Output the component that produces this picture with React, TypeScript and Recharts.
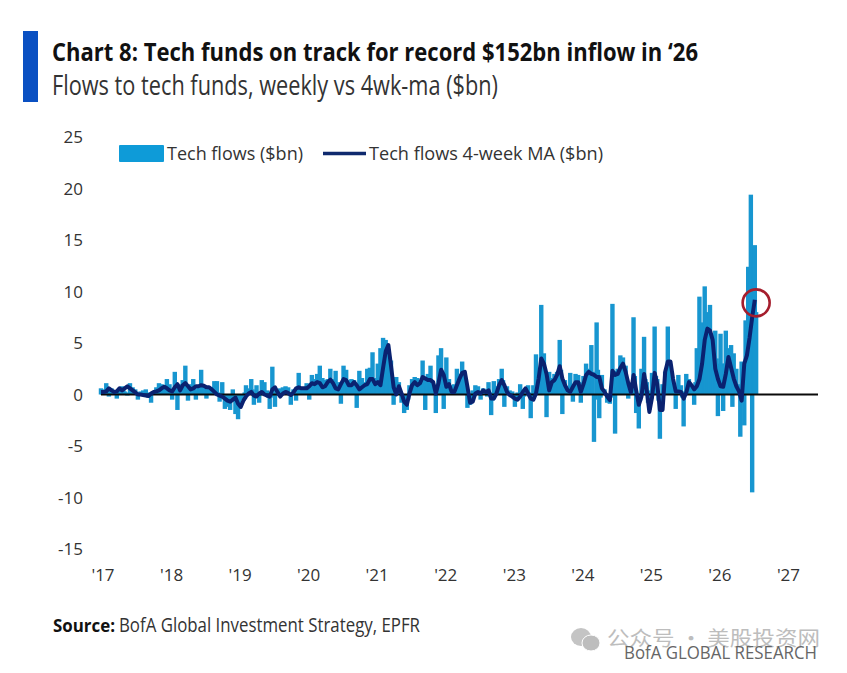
import React from "react";
import {
  ComposedChart, Bar, Line, XAxis, YAxis, ReferenceLine, ReferenceDot,
} from "recharts";

const yearTicks = [2017, 2018, 2019, 2020, 2021, 2022, 2023, 2024, 2025, 2026, 2027];
const valueTicks = [-15, -10, -5, 0, 5, 10, 15, 20, 25];

const flows2017 = [.6,.3,.5,.2,1.1,.4,-.2,.3,.6,.2,.3,.4,-.4,.2,.6,.3,.8,.4,.3,.1,-.1,.2,1.1,.5,.7,.3,.5,.2,-.5,.1,.3,.2,.4,.1,.5,.2,-.3,.1,-.8,.1,.3,.2,.7,.4,1.1,.6,1.0,.5,.8,.4,1.5,.7];
const flows2018 = [1.0,.4,-.5,.5,2.2,.6,-1.5,.4,1.0,.5,1.4,.6,2.8,.8,-.6,.4,1.0,.5,1.5,.6,-.5,.4,.8,.6,2.4,.7,.9,.5,-.4,.5,.7,.4,.7,.3,1.3,.4,1.3,.2,-.7,-.1,1.2,-.3,-1.4,-.5,-1.2,-.6,-1.5,-.7,.5,-.5,-1.9,-.8];
const flows2019 = [-2.4,-1.0,-.5,-.2,-.5,.2,.9,.2,.6,.3,1.5,.5,-1.0,-.2,.9,.1,-.8,-.1,1.4,.4,1.2,.3,.4,-.3,-1.4,-.3,2.7,.6,-1.2,-.1,.4,.2,.6,.2,.7,.3,.8,.2,.7,-.1,-1.0,.2,.5,.3,-.6,.4,2.1,.7,.6,.4,.7,.5];
const flows2020 = [1.1,.6,-.5,.7,1.9,.9,1.5,1.0,2.0,1.1,2.8,1.2,1.6,.9,1.4,.8,1.5,1.1,2.5,1.4,1.5,.9,2.3,.7,1.2,.5,-.9,.8,2.8,1.4,2.4,1.2,1.4,.8,1.5,.9,1.4,1.0,-1.3,.7,2.3,.6,1.6,.7,1.2,.9,2.5,1.1,2.6,1.4,4.1,1.6];
const flows2021 = [1.5,1.0,3.0,1.8,4.5,3.0,5.5,4.5,5.3,4.6,4.2,3.5,3.3,1.5,-1.0,.4,1.7,.9,1.2,.3,-.8,-.2,-1.8,-.8,-1.5,-.5,.9,.3,1.5,.8,1.7,1.0,1.6,.9,1.4,1.2,3.3,1.7,-1.5,.8,2.0,1.2,2.8,1.4,1.0,.6,-1.8,.5,3.8,1.5,4.5,2.0];
const flows2022 = [-1.4,1.0,3.6,1.4,1.5,.6,.9,.3,1.0,.5,2.5,1.2,2.0,1.4,3.2,1.9,1.8,.8,-1.3,-.4,-1.0,-.6,.4,-.2,.9,.3,.8,.3,-.5,.1,.6,.3,.4,-.2,1.2,.2,-2.0,-.6,1.3,.2,.8,.3,1.5,.8,2.5,1.4,-1.2,.3,.8,.2,.4,-.1];
const flows2023 = [.3,-.2,-1.2,-.3,.2,-.2,1.0,.2,-1.4,-.2,.6,.3,.9,.2,-2.3,-.4,.9,.1,3.9,1.5,2.5,1.8,8.7,3.0,4.0,1.2,-2.2,.4,2.2,1.0,1.6,.9,2.0,1.2,2.2,1.6,5.3,2.4,-1.9,.7,1.4,.6,.8,.3,2.1,.5,-.7,.6,2.0,1.0,1.9,1.2];
const flows2024 = [-.8,.7,1.8,1.0,3.0,1.7,2.5,1.5,4.8,2.2,-4.6,-.5,7.0,2.4,-2.3,-.3,1.9,.5,.5,.1,-.8,-.4,-.9,-.3,8.8,2.3,-3.8,.7,2.5,1.6,3.8,2.0,3.6,2.5,2.8,1.0,-.4,.1,1.0,.3,7.5,1.8,-1.8,-.4,-3.3,-.6,2.5,.6,5.6,1.5,1.2,-.8];
const flows2025 = [-1.5,.4,2.1,.9,6.6,1.8,1.5,-.6,-4.3,-.9,1.0,.3,2.2,1.0,6.6,2.6,2.1,1.0,1.0,.3,-1.4,.2,1.9,.6,.9,-.3,-3.1,.3,2.0,.9,1.5,.8,.8,.3,-1.0,1.2,4.5,2.5,9.5,5.5,7.0,5.8,10.5,8.0,7.5,5.5,8.7,5.0,4.0,3.0,6.2,3.5];
const flows2026 = [-2.1,3.0,5.9,3.0,-1.6,3.0,6.2,3.5,4.5,2.5,4.8,-1.2,4.0,1.5,2.5,1.0,.8,-4.1,3.2,1.8,-3.0,7.2,5.0,12.4,9.0,19.4,-9.5,13.0,14.5,8.0];

// 4-week moving average, read every second week
const ma4wk = [
  .25,.25,.3,.6,.4,.25,.3,.6,.4,.6,.8,.6,.4,.2,0,0,-.05,-.1,-.15,.1,.25,.3,.4,.6,.75,.6,
  .4,.3,.7,1.0,.4,.9,1.1,.8,.5,.6,.8,.8,.9,.85,.7,.7,.5,.25,0,-.1,-.2,-.4,-.6,-.7,-.5,-.3,
  -.9,-1.2,-.6,-.2,.1,.25,-.1,-.2,.1,.25,0,-.1,-.2,.5,.7,.2,-.2,.1,.25,.15,-.05,.2,.6,.7,.6,.6,
  .6,.8,1.1,1.0,1.2,1.1,.7,.8,1.2,1.45,1.1,.6,.5,1.0,1.5,1.4,.9,.9,1.2,.9,.5,.7,.9,1.0,1.5,1.5,
  1.0,1.2,.9,2.6,4.2,4.8,2.8,.7,0,.8,.1,-.7,-1.0,.1,.9,1.2,.9,1.1,1.7,1.55,1.4,1.4,1.2,.1,1.1,2.4,
  1.9,.75,1.0,.25,.25,.9,1.55,2.1,2.2,.75,-.8,-.7,.1,.25,.1,.4,.25,.4,-.4,-.4,.1,.9,1.4,.9,.25,-.05,
  -.2,-.4,-.5,-.2,.25,.6,.1,-.4,-.5,.1,1.55,3.5,3.0,2.0,.4,1.2,1.4,1.9,2.75,1.55,.9,.4,.25,.75,1.2,1.2,
  .25,1.0,1.9,2.2,2.0,1.9,1.7,1.7,.6,.25,-.2,-.55,2.3,1.9,2.0,2.6,3.0,2.2,1.1,.2,1.9,.4,-1.0,-.2,2.0,.4,
  -1.7,-.3,2.1,1.0,-1.5,-1.5,2.2,3.2,3.2,1.5,.3,.3,.25,-.4,.2,1.2,.9,.5,.8,1.5,3.0,5.3,6.4,6.2,5.3,2.5,
  1.5,.8,.75,2.0,3.65,2.6,1.55,.8,.3,-.6,3.0,3.8,5.5,7.5,9.2,
];

const flows = [
  ...flows2017, ...flows2018, ...flows2019, ...flows2020, ...flows2021,
  ...flows2022, ...flows2023, ...flows2024, ...flows2025, ...flows2026,
];
const rows = flows.map((flow, w) => ({
  t: 2017 + w / 52,
  flow,
  ma: w % 2 === 0 && ma4wk[w / 2] !== undefined ? ma4wk[w / 2] : null,
}));
const lastRow = rows[rows.length - 1];

const SANS = "'Open Sans', sans-serif";

function WideBar(props: any) {
  const { x, y, width, height, fill } = props;
  const barWidth = 4.4;
  return (
    <rect
      x={x + width / 2 - barWidth / 2}
      y={Math.min(y, y + height)}
      width={barWidth}
      height={Math.abs(height)}
      fill={fill}
    />
  );
}

function Overlay() {
  return (
    <svg width={847} height={673} style={{ position: "absolute", left: 0, top: 0 }}>
      <rect x={23} y={31} width={15} height={71} fill="#0a50c2" />
      <text x={52} y={61} fontFamily={SANS} fontWeight={700} fontSize={25} fill="#111" textLength={646} lengthAdjust="spacingAndGlyphs">
        Chart 8: Tech funds on track for record $152bn inflow in ‘26
      </text>
      <text x={52} y={95} fontFamily={SANS} fontSize={27} fill="#333" textLength={446} lengthAdjust="spacingAndGlyphs">
        Flows to tech funds, weekly vs 4wk-ma ($bn)
      </text>

      <rect x={119} y={145} width={45} height={17} rx={1} fill="#0e9bd8" />
      <text x={167} y={160} fontFamily={SANS} fontSize={19} fill="#333" textLength={136} lengthAdjust="spacingAndGlyphs">
        Tech flows ($bn)
      </text>
      <line x1={323} x2={366} y1={153.5} y2={153.5} stroke="#0f2a6e" strokeWidth={3.5} />
      <text x={369} y={160} fontFamily={SANS} fontSize={19} fill="#333" textLength={234} lengthAdjust="spacingAndGlyphs">
        Tech flows 4-week MA ($bn)
      </text>

      <text x={53} y={632} fontFamily={SANS} fontSize={17.5} fontWeight={700} fill="#111" textLength={62} lengthAdjust="spacingAndGlyphs">
        Source:
      </text>
      <text x={119} y={632} fontFamily={SANS} fontSize={20} fill="#333" textLength={301} lengthAdjust="spacingAndGlyphs">
        BofA Global Investment Strategy, EPFR
      </text>

      <ellipse cx={581} cy={637} rx={10} ry={9} fill="#c4c4c4" />
      <ellipse cx={591} cy={643} rx={9} ry={8} fill="#bdbdbd" stroke="#fff" strokeWidth={1} />
      <text x={607} y={646} fontFamily="'Noto Sans CJK SC', sans-serif" fontSize={20} fill="#bdbdbd" textLength={213} lengthAdjust="spacingAndGlyphs">
        公众号 · 美股投资网
      </text>
      <text x={624} y={659} fontFamily={SANS} fontSize={18} fill="#666" textLength={193} lengthAdjust="spacingAndGlyphs">
        BofA GLOBAL RESEARCH
      </text>
    </svg>
  );
}

export default function App() {
  return (
    <div style={{ position: "absolute", left: 0, top: 0, width: 847, height: 673, background: "#fff" }}>
      <Overlay />
      <div style={{ position: "absolute", left: 0, top: 0 }}>
        <ComposedChart
          width={847}
          height={673}
          data={rows}
          margin={{ top: 137, right: 29, bottom: 84, left: 0 }}
        >
          <YAxis
            type="number"
            width={101}
            domain={[-15, 25]}
            ticks={valueTicks}
            axisLine={false}
            tickLine={false}
            tickSize={0}
            tickMargin={18}
            interval={0}
            tick={{ fontFamily: SANS, fontSize: 17, fill: "#333" }}
          />
          <XAxis
            dataKey="t"
            type="number"
            height={40}
            domain={[2017, 2027.46]}
            ticks={yearTicks}
            axisLine={false}
            tickLine={false}
            tickSize={0}
            tickMargin={20}
            interval={0}
            tickFormatter={(v: number) => "'" + String(v).slice(2)}
            tick={{ fontFamily: SANS, fontSize: 17, fill: "#333", dx: 2 }}
          />
          <Bar dataKey="flow" fill="#1796d0" shape={WideBar} isAnimationActive={false} />
          <ReferenceLine y={0} stroke="#0a0a0a" strokeWidth={2} />
          <Line
            dataKey="ma"
            type="linear"
            stroke="#0a2270"
            strokeWidth={4}
            dot={false}
            connectNulls
            isAnimationActive={false}
            strokeLinejoin="round"
          />
          <ReferenceDot
            x={lastRow.t}
            y={8.9}
            r={13.5}
            fill="none"
            stroke="#a51e2d"
            strokeWidth={2.6}
          />
        </ComposedChart>
      </div>
    </div>
  );
}
